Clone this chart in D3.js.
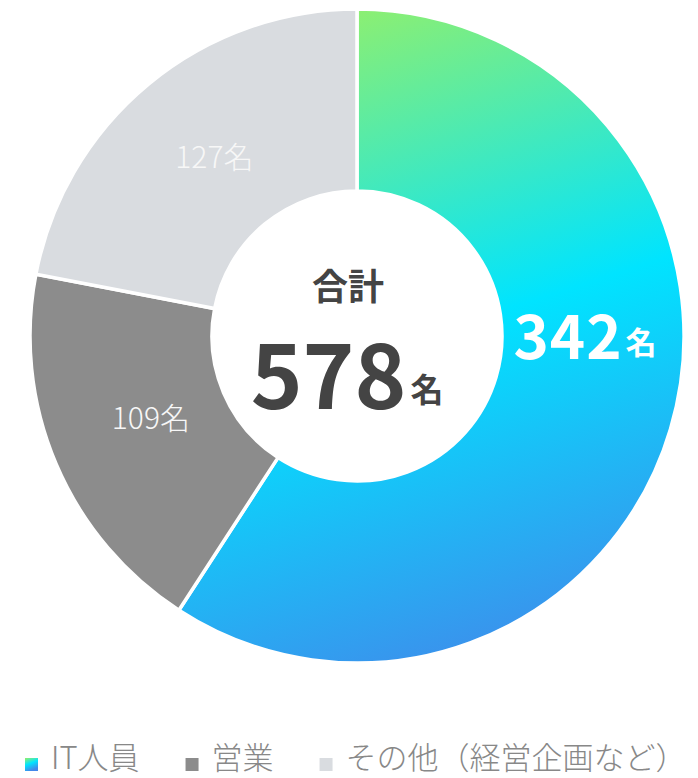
<!DOCTYPE html>
<html><head><meta charset="utf-8">
<script src="https://cdn.jsdelivr.net/npm/d3@7/dist/d3.min.js"></script>
<style>
html,body{margin:0;padding:0;background:#fff;}
svg{display:block;font-family:"Noto Sans CJK JP","Noto Sans",sans-serif;}
</style></head>
<body>
<svg id="chart" width="698" height="778"></svg>
<script>
const categories = ["IT人員", "営業", "その他（経営企画など）"];
const values = [342, 109, 127];
const unitLabel = "名";
const totalLabel = "合計";
const colors = ["url(#itGrad)", "#8c8c8c", "#d9dce0"];

const svg = d3.select("#chart");
const cx = 357, cy = 336, R = 327, r0 = 145;

const defs = svg.append("defs");
const stops = [[0, "#98f066"], [0.5, "#00e4ff"], [1, "#4287ea"]];
const g1 = defs.append("linearGradient").attr("id", "itGrad")
  .attr("gradientUnits", "userSpaceOnUse")
  .attr("x1", -60).attr("y1", -R - 10).attr("x2", 160).attr("y2", R + 20);
stops.forEach(([o, c]) => g1.append("stop").attr("offset", o).attr("stop-color", c));
const g2 = defs.append("linearGradient").attr("id", "legGrad")
  .attr("x1", 0).attr("y1", 0).attr("x2", 0.4).attr("y2", 1);
stops.forEach(([o, c]) => g2.append("stop").attr("offset", o).attr("stop-color", c));

const pie = d3.pie().sort(null).value(d => d)(values);
const arc = d3.arc().innerRadius(r0).outerRadius(R);
const g = svg.append("g").attr("transform", `translate(${cx},${cy})`);

g.selectAll("path.slice").data(pie).join("path")
  .attr("class", "slice")
  .attr("d", arc)
  .attr("fill", (d, i) => colors[i])
  .attr("stroke", "#fff").attr("stroke-width", 3.5).attr("stroke-linejoin", "miter");

// slice labels
pie.forEach((d, i) => {
  const labR = i === 0 ? 228 : 224;
  let a = (d.startAngle + d.endAngle) / 2;
  if (i === 0) a = Math.PI / 2;
  const x = labR * Math.sin(a), y = -labR * Math.cos(a);
  const t = g.append("text").attr("x", x).attr("y", i === 0 ? y - 4 : y - 8)
    .attr("text-anchor", "middle").attr("dominant-baseline", "central")
    .attr("fill", i === 0 ? "#ffffff" : "#f7f7f7");
  if (i === 0) {
    t.attr("font-weight", 700);
    t.append("tspan").attr("font-size", 60).attr("letter-spacing", 1).text(values[i]);
    t.append("tspan").attr("font-size", 31).attr("dx", 3).attr("dy", 8).text(unitLabel);
  } else {
    t.attr("font-weight", 300).attr("font-size", 30).text(values[i] + unitLabel);
  }
});

// center
const total = d3.sum(values);
g.append("text").attr("x", -9).attr("y", -52)
  .attr("text-anchor", "middle").attr("dominant-baseline", "central")
  .attr("font-size", 36).attr("font-weight", 700).attr("fill", "#444")
  .text(totalLabel);
const ct = g.append("text").attr("x", -10).attr("y", 34)
  .attr("text-anchor", "middle").attr("dominant-baseline", "central")
  .attr("font-weight", 700).attr("fill", "#444");
ct.append("tspan").attr("font-size", 88).text(total);
ct.append("tspan").attr("font-size", 33).attr("dx", 4).attr("dy", 18).text(unitLabel);

// legend
const leg = svg.append("g");
let lx = 25;
const ly = 769;
categories.forEach((c, i) => {
  leg.append("rect").attr("x", lx).attr("y", ly - 11).attr("width", 13).attr("height", 13)
    .attr("fill", i === 0 ? "url(#legGrad)" : colors[i]);
  const t = leg.append("text").attr("x", lx + 26).attr("y", ly)
    .attr("font-size", 31).attr("font-weight", 300).attr("fill", "#888").text(c);
  const w = t.node().getComputedTextLength();
  lx += 26 + w + 46;
});
</script>
</body></html>
